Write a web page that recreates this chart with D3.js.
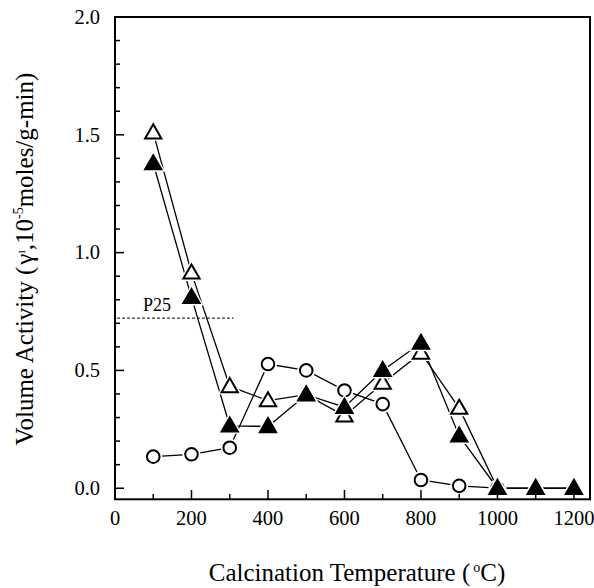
<!DOCTYPE html>
<html><head><meta charset="utf-8">
<script src="https://cdn.jsdelivr.net/npm/d3@7"></script>
<style>body{margin:0;background:#fff}svg{display:block}</style>
</head><body>
<script>
const temps = [100,200,300,400,500,600,700,800,900,1000,1100,1200];
const circleVals = [0.134,0.144,0.172,0.527,0.50,0.415,0.357,0.035,0.01,0.0];
const openTriVals = [1.509,0.914,0.432,0.372,0.397,0.307,0.446,0.574,0.34,0.0,0.0,0.0];
const filledTriVals = [1.378,0.81,0.265,0.262,0.397,0.344,0.50,0.616,0.222,0.0,0.0,0.0];
const xTicks = [0,200,400,600,800,1000,1200];
const yTicks = [0.0,0.5,1.0,1.5,2.0];
const p25Value = 0.722, p25Range = [0, 310];

const W=594,H=588;
const font="Liberation Serif";
const svg=d3.select("body").append("svg").attr("width",W).attr("height",H);
const x=d3.scaleLinear().domain([0,1242]).range([115,590]);
const y=d3.scaleLinear().domain([-0.047,2.0]).range([499.3,17]);

// P25
svg.append("line").attr("x1",x(p25Range[0])+2).attr("x2",x(p25Range[1])).attr("y1",y(p25Value)).attr("y2",y(p25Value))
  .attr("stroke","#000").attr("stroke-width",1).attr("stroke-dasharray","3,2");
svg.append("text").attr("x",x(73)).attr("y",y(p25Value)-7).attr("font-family",font).attr("font-size",18).text("P25");

const line=d3.line().x(d=>x(d[0])).y(d=>y(d[1]));
const series=[
  {vals:circleVals,type:"circle"},
  {vals:openTriVals,type:"openTri"},
  {vals:filledTriVals,type:"filledTri"}];
series.forEach(s=>{
  const pts=s.vals.map((v,i)=>[temps[i],v]);
  svg.append("path").attr("d",line(pts)).attr("fill","none").attr("stroke","#000").attr("stroke-width",1.3);
});
const tri=d3.symbol().type(d3.symbolTriangle);
function drawMarkers(s){
  s.vals.forEach((v,i)=>{
    const cx=x(temps[i]), cy=y(v);
    const g=svg.append("g").attr("transform",`translate(${cx},${cy})`);
    if(s.type==="circle"){
      g.append("circle").attr("r",9).attr("fill","#fff");
      g.append("circle").attr("r",6.3).attr("fill","#fff").attr("stroke","#000").attr("stroke-width",2);
    } else {
      g.append("path").attr("d",tri.size(260)()).attr("fill","#fff").attr("transform","translate(0,1)");
      g.append("path").attr("d",tri.size(115)()).attr("transform","translate(0,1)")
        .attr("fill",s.type==="filledTri"?"#000":"#fff").attr("stroke","#000").attr("stroke-width",2).attr("stroke-linejoin","miter");
    }
  });
}
drawMarkers(series[0]);drawMarkers(series[1]);drawMarkers(series[2]);

// frame
svg.append("rect").attr("x",115).attr("y",17).attr("width",475).attr("height",482.3)
  .attr("fill","none").attr("stroke","#000").attr("stroke-width",2);

// x ticks
const xMinor=d3.range(100,1300,200);
const gx=svg.append("g");
xTicks.forEach(t=>{gx.append("line").attr("x1",x(t)).attr("x2",x(t)).attr("y1",499).attr("y2",490).attr("stroke","#000").attr("stroke-width",1.5);
  gx.append("text").attr("x",x(t)).attr("y",525).attr("text-anchor","middle").attr("font-family",font).attr("font-size",20.5).text(t);});
xMinor.forEach(t=>gx.append("line").attr("x1",x(t)).attr("x2",x(t)).attr("y1",499).attr("y2",494).attr("stroke","#000").attr("stroke-width",1.5));
// y ticks
const gy=svg.append("g");
yTicks.forEach(t=>{gy.append("line").attr("x1",115).attr("x2",124).attr("y1",y(t)).attr("y2",y(t)).attr("stroke","#000").attr("stroke-width",1.5);
  gy.append("text").attr("x",100).attr("y",y(t)+6.7).attr("text-anchor","end").attr("font-family",font).attr("font-size",20.5).text(t.toFixed(1));});
d3.range(0.1,2.0,0.1).filter(v=>Math.abs(v*2-Math.round(v*2))>0.01).forEach(t=>
  gy.append("line").attr("x1",115).attr("x2",120).attr("y1",y(t)).attr("y2",y(t)).attr("stroke","#000").attr("stroke-width",1.5));

// axis labels
svg.append("text").attr("x",357).attr("y",581).attr("text-anchor","middle").attr("font-family",font).attr("font-size",25)
  .html('Calcination Temperature (<tspan dx="3" dy="-9" font-size="14">o</tspan><tspan dy="9">C)</tspan>');
svg.append("text").attr("transform","translate(33,259) rotate(-90)").attr("text-anchor","middle").attr("font-family",font).attr("font-size",25)
  .html('Volume Activity (<tspan dx="2">γ</tspan><tspan dy="-8" font-size="12">ı</tspan><tspan dy="8">,10</tspan><tspan dy="-10" font-size="14">-5</tspan><tspan dy="10">moles/g-min)</tspan>');
</script>
</body></html>
